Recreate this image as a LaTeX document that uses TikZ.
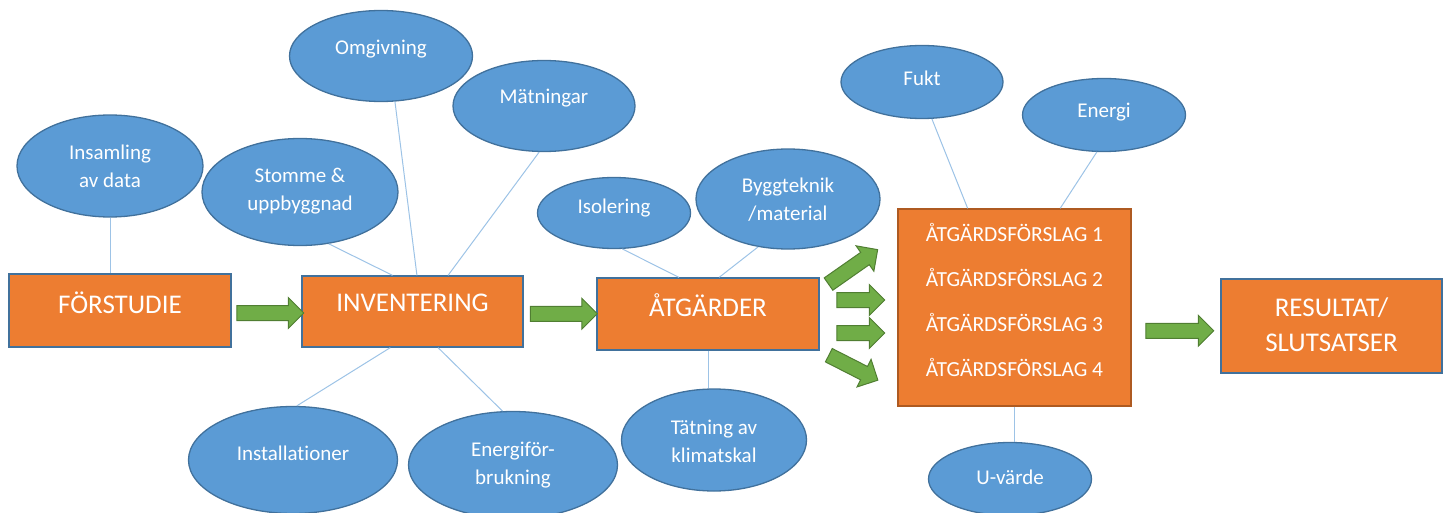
\documentclass[tikz,border=0pt]{standalone}
\usepackage{fontspec}
\setmainfont{Carlito}[Ligatures=CommonOff]
\usetikzlibrary{shapes.geometric,shapes.arrows,calc}

\definecolor{orangefill}{HTML}{ED7D31}
\definecolor{orangeline}{HTML}{AE5A21}
\definecolor{bluefill}{HTML}{5B9BD5}
\definecolor{blueline}{HTML}{41719C}
\definecolor{linkblue}{HTML}{9DC3E6}
\definecolor{greenfill}{HTML}{70AD47}
\definecolor{greenline}{HTML}{507E32}

\begin{document}
\begin{tikzpicture}[x=1pt, y=-1pt,
    box/.style={rectangle, draw=blueline, fill=orangefill, line width=1.3pt},
    bubble/.style={ellipse, draw=blueline, fill=bluefill, line width=1.3pt},
    boxtxt/.style={text=white, font=\fontsize{27}{35}\selectfont, align=center},
    bubtxt/.style={text=white, font=\fontsize{21}{28}\selectfont, align=center},
    link/.style={draw=linkblue, line width=1pt},
    blockarrow/.style={single arrow, draw=greenline, fill=greenfill, line width=1pt,
        inner sep=7pt, minimum width=30, single arrow head extend=8pt,
        single arrow head indent=0pt}]
    \useasboundingbox (0,0) rectangle (1445,513);

    % main steps
    \node[box, minimum width=222, minimum height=73,
        label={[boxtxt,yshift=8]center:FÖRSTUDIE}] (forst) at (120,310.5) {};
    \node[box, minimum width=221, minimum height=71,
        label={[boxtxt,yshift=9]center:INVENTERING}] (inv) at (412.5,311.5) {};
    \node[box, minimum width=222, minimum height=72,
        label={[boxtxt,yshift=9]center:ÅTGÄRDER}] (atg) at (708,314) {};
    \node[box, draw=orangeline, minimum width=233, minimum height=197,
        label={[bubtxt,font=\fontsize{21.5}{45}\selectfont,yshift=8]center:ÅTGÄRDSFÖRSLAG 1\\ÅTGÄRDSFÖRSLAG 2\\ÅTGÄRDSFÖRSLAG 3\\ÅTGÄRDSFÖRSLAG 4}] (forsl) at (1014.5,307.5) {};
    \node[box, minimum width=221, minimum height=94,
        label={[boxtxt,yshift=1.5]center:RESULTAT/\\SLUTSATSER}] (res) at (1331.5,326) {};

    % bubbles
    \node[bubble, minimum width=186, minimum height=102,
        label={[bubtxt]center:Insamling\\av data}] (ins) at (110,166) {};
    \node[bubble, minimum width=196, minimum height=107,
        label={[bubtxt,yshift=1]center:Stomme \&\\uppbyggnad}] (sto) at (300,192) {};
    \node[bubble, minimum width=183, minimum height=91,
        label={[bubtxt,yshift=7]center:Omgivning}] (omg) at (381,56) {};
    \node[bubble, minimum width=182, minimum height=91,
        label={[bubtxt,yshift=8]center:Mätningar}] (mat) at (544,106) {};
    \node[bubble, minimum width=209, minimum height=107,
        label={[bubtxt,yshift=7]center:Installationer}] (inst) at (293,460) {};
    \node[bubble, minimum width=209, minimum height=107,
        label={[bubtxt]center:Energiför-\\brukning}] (enf) at (513,465) {};
    \node[bubble, minimum width=153, minimum height=71,
        label={[bubtxt,yshift=5]center:Isolering}] (iso) at (614,213) {};
    \node[bubble, minimum width=184, minimum height=100,
        label={[bubtxt,yshift=-1]center:Byggteknik\\/material}] (byg) at (788,199) {};
    \node[bubble, minimum width=185, minimum height=102,
        label={[bubtxt,yshift=-1]center:Tätning av\\klimatskal}] (tat) at (714,440) {};
    \node[bubble, minimum width=162, minimum height=73,
        label={[bubtxt,yshift=4]center:Fukt}] (fuk) at (922,82) {};
    \node[bubble, minimum width=163, minimum height=73,
        label={[bubtxt,yshift=3]center:Energi}] (ene) at (1104,115) {};
    \node[bubble, minimum width=163, minimum height=73,
        label={[bubtxt,yshift=2]center:U-värde}] (uva) at (1010,479) {};

    % thin links
    \draw[link] (ins.south) -- (ins.south |- forst.north);
    \draw[link] (sto.299) -- ($(inv.north west)!0.41!(inv.north east)$);
    \draw[link] (omg.287) -- ($(inv.north west)!0.52!(inv.north east)$);
    \draw[link] (mat.264) -- ($(inv.north west)!0.66!(inv.north east)$);
    \draw[link] (inst.86) -- ($(inv.south west)!0.40!(inv.south east)$);
    \draw[link] (enf.101) -- ($(inv.south west)!0.615!(inv.south east)$);
    \draw[link] (iso.283) -- ($(atg.north west)!0.37!(atg.north east)$);
    \draw[link] (byg.238) -- ($(atg.north west)!0.55!(atg.north east)$);
    \draw[link] (atg.south) -- (atg.south |- tat.north);
    \draw[link] (fuk.285) -- ($(forsl.north west)!0.30!(forsl.north east)$);
    \draw[link] (ene.259) -- ($(forsl.north west)!0.695!(forsl.north east)$);
    \draw[link] (forsl.south) -- (forsl.south |- uva.north);

    % block arrows
    \node[blockarrow, minimum height=67] (a1) at ($(forst.east)!0.5!(inv.west)+(0,2)$) {};
    \node[blockarrow, minimum height=67] (a2) at ($(inv.east)!0.5!(atg.west)+(0,1)$) {};
    \node[blockarrow, minimum height=60, rotate=35] (f1) at (850,269) {};
    \node[blockarrow, minimum height=48] (f2) at (857,300) {};
    \node[blockarrow, minimum height=48] (f3) at (857,333) {};
    \node[blockarrow, minimum height=55, rotate=-27] (f4) at (850,366) {};
    \node[blockarrow, minimum height=68] (a3) at ($(forsl.east)!0.5!(res.west)+(0,14)$) {};
\end{tikzpicture}
\end{document}
